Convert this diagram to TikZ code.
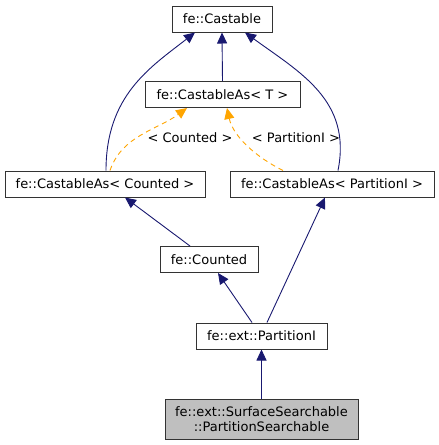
\documentclass[tikz,border=0pt]{standalone}
\usepackage{fontspec}
\setmainfont{DejaVu Sans}
\usetikzlibrary{arrows.meta}
\definecolor{edgeblue}{HTML}{191970}
\definecolor{edgeorange}{HTML}{FFA500}
\definecolor{boxgray}{HTML}{BFBFBF}

\begin{document}
\begin{tikzpicture}[x=1pt,y=-1pt,
  cls/.style={draw=black!80,line width=1pt,rectangle,inner sep=0pt,minimum height=26pt,font=\fontsize{13}{15}\selectfont},
  inh/.style={edgeblue,line width=0.9pt,-{Triangle[length=11pt,width=10pt]}},
  tmpl/.style={edgeorange,line width=0.9pt,dashed,dash pattern=on 5pt off 4pt,-{Triangle[length=11pt,width=10pt]}},
  lbl/.style={font=\fontsize{13}{15}\selectfont,inner sep=0pt}]
\useasboundingbox (0,0) rectangle (439,445);
\node[cls,minimum width=100pt] (castable) at (222,19) {fe::Castable};
\node[cls,minimum width=155pt] (castT) at (222.5,94.5) {fe::CastableAs< T >};
\node[cls,minimum width=200pt] (castCounted) at (105,184) {fe::CastableAs< Counted >};
\node[cls,minimum width=204pt] (castPart) at (332,184) {fe::CastableAs< PartitionI >};
\node[cls,minimum width=98pt] (counted) at (209,259.5) {fe::Counted};
\node[cls,minimum width=131pt] (partI) at (261.5,336) {fe::ext::PartitionI};
\node[cls,fill=boxgray,minimum width=193pt,minimum height=40pt,align=center,font=\fontsize{13}{14.5}\selectfont] (search) at (261.5,419) {fe::ext::SurfaceSearchable\\::PartitionSearchable};
% inheritance
\draw[inh] (castT.north) -- (castable.south);
\draw[inh] ([xshift=1pt]castCounted.north) .. controls +(0,-75) and +(-45,35) .. ([xshift=-27pt]castable.south);
\draw[inh] ([xshift=6pt]castPart.north) .. controls +(14,-70) and +(55,40) .. ([xshift=23pt]castable.south);
\draw[inh] ([xshift=-19pt]counted.north) -- ([xshift=20pt]castCounted.south);
\draw[inh] ([xshift=-9.5pt]partI.north) -- ([xshift=9pt]counted.south);
\draw[inh] ([xshift=5.5pt]partI.north) -- ([xshift=-7pt]castPart.south);
\draw[inh] (search.north) -- (partI.south);
% template instances
\draw[tmpl] ([xshift=5pt]castCounted.north) .. controls +(12,-35) and +(-30,22) .. ([xshift=-35.5pt]castT.south);
\draw[tmpl] ([xshift=-49pt]castPart.north) .. controls +(-28,-14) and +(6,28) .. ([xshift=4.5pt]castT.south);
\node[lbl] (lblCounted) at (190,138) {< Counted >};
\node[lbl] (lblPart) at (296,138) {< PartitionI >};
\end{tikzpicture}
\end{document}
